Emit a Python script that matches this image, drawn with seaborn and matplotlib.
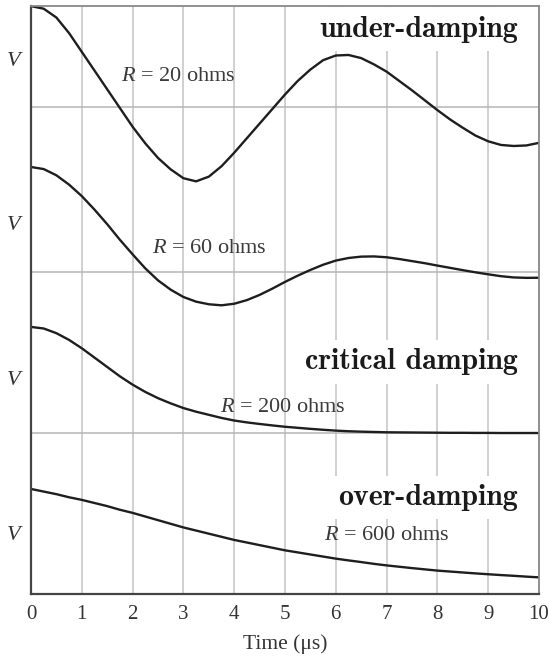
import seaborn as sns
import matplotlib.pyplot as plt
import pandas as pd
import numpy as np

# time axis in microseconds (readings every 0.25 us)
time_us = [i * 0.25 for i in range(41)]

# relative voltage V/V0
v_r20 = [0.97, 0.945, 0.86, 0.71, 0.53, 0.35, 0.17, -0.01, -0.19, -0.35, -0.49, -0.60, -0.685, -0.715,
         -0.67, -0.57, -0.44, -0.30, -0.16, -0.02, 0.12, 0.25, 0.36, 0.45, 0.495, 0.50, 0.47, 0.41,
         0.34, 0.25, 0.16, 0.065, -0.03, -0.12, -0.20, -0.275, -0.33, -0.365, -0.375, -0.37, -0.345]
v_r60 = [1.01, 0.99, 0.93, 0.84, 0.73, 0.60, 0.46, 0.31, 0.17, 0.035, -0.08, -0.17, -0.24, -0.285,
         -0.31, -0.32, -0.305, -0.27, -0.22, -0.16, -0.095, -0.035, 0.02, 0.07, 0.11, 0.135, 0.148, 0.15,
         0.142, 0.125, 0.105, 0.085, 0.062, 0.04, 0.018, -0.003, -0.022, -0.04, -0.052, -0.056, -0.055]
v_r200 = [1.02, 1.005, 0.96, 0.895, 0.815, 0.725, 0.635, 0.545, 0.465, 0.395, 0.335, 0.285, 0.24, 0.205,
          0.175, 0.145, 0.12, 0.102, 0.087, 0.073, 0.06, 0.05, 0.04, 0.031, 0.023, 0.017, 0.013, 0.01,
          0.007, 0.006, 0.005, 0.004, 0.003, 0.002, 0.002, 0.001, 0.001, 0.0, 0.0, 0.0, 0.0]
v_r600 = [1.01, 0.985, 0.96, 0.93, 0.905, 0.875, 0.845, 0.81, 0.78, 0.745, 0.71, 0.675, 0.64, 0.61,
          0.58, 0.55, 0.52, 0.495, 0.47, 0.445, 0.42, 0.40, 0.38, 0.36, 0.34, 0.323, 0.307, 0.29,
          0.275, 0.262, 0.249, 0.237, 0.225, 0.216, 0.207, 0.198, 0.19, 0.182, 0.175, 0.167, 0.16]

trace_labels = ["R = 20 ohms", "R = 60 ohms", "R = 200 ohms", "R = 600 ohms"]
regime_labels = ["under-damping", "critical damping", "over-damping"]
x_ticks = list(range(11))

# layout: vertical offset of each trace's zero line
offsets = [4.683, 3.096, 1.548, 0.0]

rows = []
for name, vals, off in zip(trace_labels, [v_r20, v_r60, v_r200, v_r600], offsets):
    for t, v in zip(time_us, vals):
        rows.append({"time": t, "V": v + off, "trace": name})
df = pd.DataFrame(rows)

sns.set_style("white")
plt.rcParams['font.family'] = ['Liberation Serif', 'DejaVu Serif']
plt.rcParams['mathtext.fontset'] = 'custom'
plt.rcParams['mathtext.it'] = 'Liberation Serif:italic'
plt.rcParams['mathtext.rm'] = 'Liberation Serif'

fig = plt.figure(figsize=(5.49, 6.62), dpi=100)
ax = fig.add_axes([31 / 549, 68 / 662, 508 / 549, 588 / 662])

for name in trace_labels:
    sns.lineplot(data=df[df["trace"] == name], x="time", y="V", color="#1e1e1e",
                 linewidth=1.7, ax=ax, estimator=None, zorder=4,
                 solid_joinstyle="round", solid_capstyle="round")

for off in offsets[:3]:
    ax.axhline(off, color="#b5b5b5", linewidth=1.1, zorder=1)

ax.set_xlim(0, 10)
ax.set_ylim(0, 5.654)
ax.set_xticks(x_ticks)
ax.set_xticklabels([str(x) for x in x_ticks])
ax.set_yticks([])
ax.grid(axis="x", color="#c4c4c4", linewidth=1.1)
ax.set_axisbelow(True)
ax.tick_params(axis="x", length=0, pad=8, labelsize=15, labelcolor="#333333")
ax.set_xlabel("Time (μs)", fontsize=15.5, color="#333333", labelpad=7)
ax.set_ylabel("")

for side in ["left", "bottom"]:
    ax.spines[side].set_color("#444444")
    ax.spines[side].set_linewidth(1.6)
for side in ["top", "right"]:
    ax.spines[side].set_color("#888888")
    ax.spines[side].set_linewidth(1.3)
for sp in ax.spines.values():
    sp.set_zorder(6)

# "V" labels on the left
for yv in [5.12, 3.54, 2.05, 0.56]:
    ax.text(-0.031, yv, "$V$", transform=ax.get_yaxis_transform(), ha="center", va="center",
            fontsize=16, color="#333333")

# resistance labels
r_pos = [(1.77, 4.93), (2.39, 3.276), (3.73, 1.753), (5.76, 0.52)]
for lab, (xx, yy) in zip(trace_labels, r_pos):
    ax.text(xx, yy, "$R$" + lab[1:], fontsize=16, color="#3a3a3a", ha="left", va="baseline",
            zorder=5)

# regime titles, white box hides grid lines
t_pos = [5.36, 2.16, 0.856]
for lab, yy in zip(regime_labels, t_pos):
    ax.text(9.59, yy, lab, fontfamily="cmb10", fontsize=21.5, color="#1a1a1a", ha="right",
            va="baseline", zorder=3,
            bbox=dict(facecolor="white", edgecolor="none", pad=6))

fig.savefig("out.png", dpi=100)
